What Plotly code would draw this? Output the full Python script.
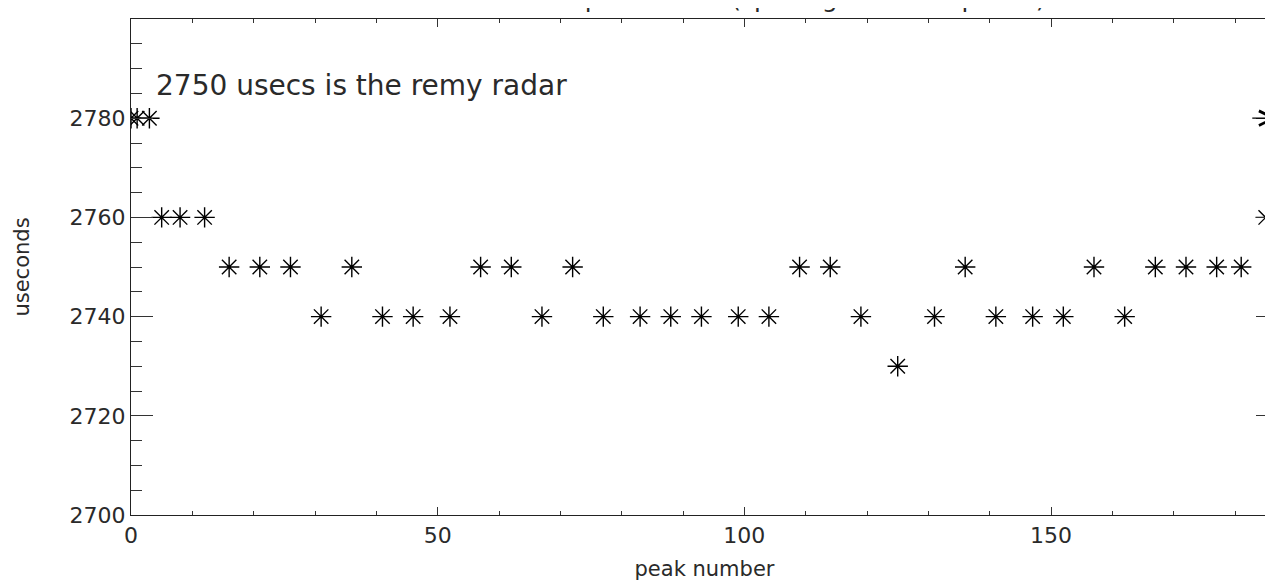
import plotly.graph_objects as go

# peak index vs. spacing between peaks (usec)
peak_number = [0, 1, 3, 5, 8, 12, 16, 21, 26, 31, 36, 41, 46, 52, 57, 62, 67, 72,
               77, 83, 88, 93, 99, 104, 109, 114, 119, 125, 131, 136, 141, 147,
               152, 157, 162, 167, 172, 177, 181, 185]
useconds = [2780, 2780, 2780, 2760, 2760, 2760, 2750, 2750, 2750, 2740, 2750, 2740,
            2740, 2740, 2750, 2750, 2740, 2750, 2740, 2740, 2740, 2740, 2740, 2740,
            2750, 2750, 2740, 2730, 2740, 2750, 2740, 2740, 2740, 2750, 2740, 2750,
            2750, 2750, 2750, 2760]

x_range = [0, 187]
y_range = [2700, 2800]
note = "2750 usecs is the remy radar"
title = "Interval between peak times (spacing between peaks)"

FONT = "DejaVu Sans"
INK = "#2a2a2a"

fig = go.Figure()
fig.add_trace(go.Scatter(
    x=peak_number,
    y=useconds,
    mode="markers",
    marker=dict(symbol="asterisk-open", size=17, color="black",
                line=dict(color="black", width=1.4)),
    showlegend=False,
    hoverinfo="x+y",
))

axis_common = dict(
    showline=True,
    linecolor="#222",
    linewidth=1.2,
    mirror="ticks",
    ticks="inside",
    tickcolor="#333",
    showgrid=False,
    zeroline=False,
    automargin=False,
    tickfont=dict(family=FONT, size=22, color=INK),
)

fig.update_xaxes(
    range=x_range,
    tick0=0, dtick=50,
    ticklen=8,
    minor=dict(dtick=10, ticks="inside", ticklen=4, tickcolor="#333"),
    title=dict(text="peak number", font=dict(family=FONT, size=21, color=INK),
               standoff=14),
    **axis_common,
)
fig.update_yaxes(
    range=y_range,
    tick0=2700, dtick=20,
    ticklen=22,
    minor=dict(dtick=5, ticks="inside", ticklen=11, tickcolor="#333"),
    title=dict(text="useconds", font=dict(family=FONT, size=21, color=INK),
               standoff=34),
    **axis_common,
)

# label inside the plot
fig.add_annotation(
    x=3.7, y=2786.5, xref="x", yref="y",
    text=note, showarrow=False, xanchor="left", yanchor="middle",
    font=dict(family=FONT, size=28, color=INK),
)

# arrow at the right edge
fig.add_annotation(
    x=186.8, y=2780, xref="x", yref="y",
    ax=-26, ay=0,
    text="", showarrow=True, standoff=0, startstandoff=0,
    arrowhead=5, arrowsize=2.4, arrowwidth=1.2, arrowcolor="black",
)

# title sits above the page edge, only its bottom shows
fig.add_annotation(
    x=0.5, y=1, xref="paper", yref="paper",
    text=title, showarrow=False, xanchor="center", yanchor="bottom",
    yshift=4,
    font=dict(family=FONT, size=25, color=INK),
)

fig.update_layout(
    width=1273,
    height=582,
    autosize=False,
    margin=dict(l=123, r=3, t=11, b=75),
    plot_bgcolor="white",
    paper_bgcolor="white",
)

fig.write_html("out.html")
